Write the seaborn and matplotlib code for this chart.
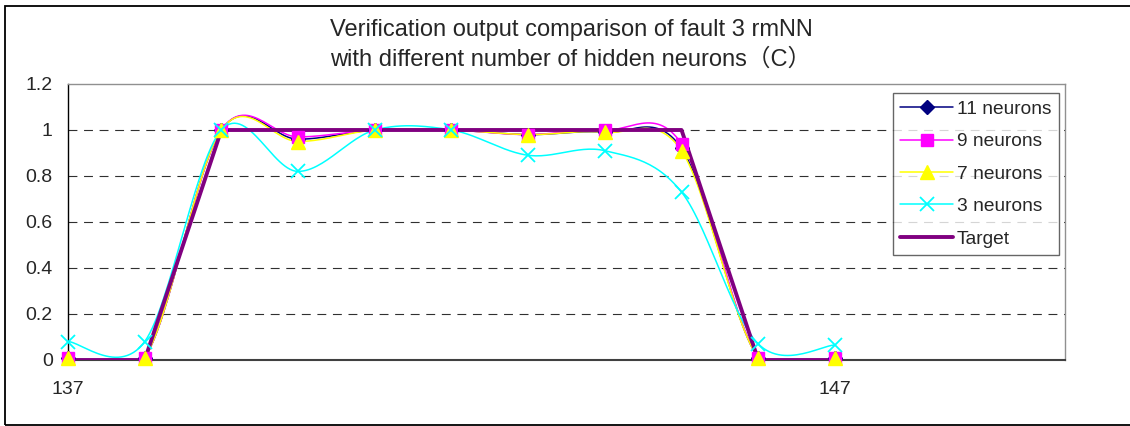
import numpy as np
import pandas as pd
import matplotlib
matplotlib.use("Agg")
import matplotlib.pyplot as plt
import seaborn as sns
from matplotlib.lines import Line2D
from matplotlib.patches import Rectangle
from matplotlib.ticker import FuncFormatter

# Data
samples = [137, 138, 139, 140, 141, 142, 143, 144, 145, 146, 147]
n11 = [0.01, 0.01, 1.00, 0.96, 1.00, 1.00, 0.98, 0.99, 0.92, 0.01, 0.01]
n9 = [0.01, 0.01, 1.00, 0.97, 1.00, 1.00, 0.98, 1.00, 0.94, 0.01, 0.01]
n7 = [0.01, 0.01, 1.00, 0.95, 1.00, 1.00, 0.98, 0.99, 0.91, 0.01, 0.01]
n3 = [0.08, 0.08, 1.00, 0.82, 1.00, 1.00, 0.89, 0.91, 0.73, 0.07, 0.065]
target = [0, 0, 1, 1, 1, 1, 1, 1, 1, 0, 0]

series = [
    ("11 neurons", n11, "#000080", "D", 7.5),
    ("9 neurons", n9, "#FF00FF", "s", 8),
    ("7 neurons", n7, "#FFFF00", "^", 10),
    ("3 neurons", n3, "#00FFFF", "x", 9.5),
]


def smooth(x, y, n=30):
    # Excel-like smoothed line (Bezier with 1/6 control points)
    x = np.asarray(x, float)
    y = np.asarray(y, float)
    px = np.concatenate([[x[0]], x, [x[-1]]])
    py = np.concatenate([[y[0]], y, [y[-1]]])
    xs, ys = [], []
    t = np.linspace(0, 1, n)
    for i in range(len(x) - 1):
        p0 = np.array([px[i + 1], py[i + 1]])
        p3 = np.array([px[i + 2], py[i + 2]])
        c1 = p0 + (p3 - np.array([px[i], py[i]])) / 6
        c2 = p3 - (np.array([px[i + 3], py[i + 3]]) - p0) / 6
        b = ((1 - t) ** 3)[:, None] * p0 + (3 * (1 - t) ** 2 * t)[:, None] * c1 \
            + (3 * (1 - t) * t ** 2)[:, None] * c2 + (t ** 3)[:, None] * p3
        xs.extend(b[:, 0])
        ys.extend(b[:, 1])
    return np.array(xs), np.array(ys)


sns.set_style("white")
plt.rcParams["font.family"] = ["Liberation Sans", "Noto Sans CJK SC", "DejaVu Sans"]

fig = plt.figure(figsize=(11.3, 4.26), dpi=100)
ax = fig.add_axes([68 / 1130, 66 / 426, 997 / 1130, 276 / 426])

# lines first
for name, vals, color, mk, ms in series:
    sx, sy = smooth(samples, vals)
    df = pd.DataFrame({"x": sx, "y": sy})
    sns.lineplot(data=df, x="x", y="y", ax=ax, color=color, lw=1.1,
                 estimator=None, sort=False, zorder=2)
tdf = pd.DataFrame({"x": samples, "y": target})
sns.lineplot(data=tdf, x="x", y="y", ax=ax, color="#800080", lw=2.8,
             estimator=None, sort=False, zorder=3)

# markers on top
for name, vals, color, mk, ms in series:
    if mk == "x":
        ax.plot(samples, vals, ls="none", marker=mk, ms=ms, mec=color, mew=1.3,
                zorder=4, clip_on=False)
    else:
        ax.plot(samples, vals, ls="none", marker=mk, ms=ms, mfc=color, mec=color,
                zorder=4, clip_on=False)

ax.set_xlim(137, 150)
ax.set_ylim(0, 1.2)
ax.set_xticks([137, 147])
ax.set_yticks([0, 0.2, 0.4, 0.6, 0.8, 1.0, 1.2])
ax.yaxis.set_major_formatter(FuncFormatter(lambda v, p: "%g" % round(v, 1)))
ax.set_xlabel("")
ax.set_ylabel("")
ax.tick_params(axis="both", labelsize=14, length=4.5, width=1, color="black",
               direction="out", pad=6.5)
ax.tick_params(axis="x", pad=10.5)

for yv in [0.2, 0.4, 0.6, 0.8, 1.0]:
    ax.axhline(yv, color="#303030", lw=0.8, ls=(0, (8, 6)), zorder=1)

ax.spines["left"].set_color("black")
ax.spines["left"].set_linewidth(1.0)
ax.spines["bottom"].set_color("#404040")
ax.spines["bottom"].set_linewidth(1.5)
ax.spines["top"].set_color("#909090")
ax.spines["right"].set_color("#909090")
ax.spines["top"].set_linewidth(1.0)
ax.spines["right"].set_linewidth(1.0)

handles = [Line2D([], [], color=c, lw=1.1, marker=m, ms=s, mfc=c, mec=c,
                  mew=1.3 if m == "x" else 1) for _, _, c, m, s in series]
handles.append(Line2D([], [], color="#800080", lw=2.8))
labels = [s[0] for s in series] + ["Target"]
leg = fig.legend(handles, labels, loc="upper right",
                 bbox_to_anchor=(1059 / 1130, 1 - 93 / 426), fontsize=13.8,
                 frameon=True, fancybox=False, shadow=False, handlelength=2.75,
                 handletextpad=0.2, labelspacing=0.78, borderpad=0.4,
                 borderaxespad=0)
leg.get_frame().set_edgecolor("#404040")
leg.get_frame().set_linewidth(1.0)

fig.text(571 / 1130, 1 - 45 / 426,
         "Verification output comparison of fault 3 rmNN\n"
         "with different number of hidden neurons（C）",
         ha="center", va="center", fontsize=17, linespacing=1.45)

fig.patches.append(Rectangle((5 / 1130, 1 / 426), 1.2, 1 - 7 / 426,
                             transform=fig.transFigure, fill=False,
                             edgecolor="black", lw=1.3))

fig.savefig("out.png", dpi=100)
